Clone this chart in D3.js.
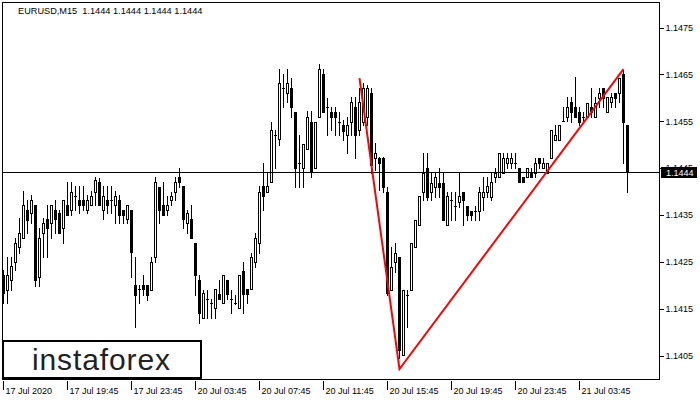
<!DOCTYPE html>
<html>
<head>
<meta charset="utf-8">
<script src="https://cdn.jsdelivr.net/npm/d3@7"></script>
<style>
  html, body { margin: 0; padding: 0; background: #fff; }
  svg { display: block; }
  text { font-family: "Liberation Sans", Arial, sans-serif; white-space: pre; }
</style>
</head>
<body>
<svg id="chart" width="700" height="400"></svg>
<script>
// ---------- DATA ----------
const symbolTitle = "EURUSD,M15  1.1444 1.1444 1.1444 1.1444";
const lastPrice = 1.1444;

const openP = [
1.14221,1.14189,1.14210,1.14249,1.14281,1.14300,1.14359,1.14353,1.14370,1.14217,
1.14310,1.14340,1.14332,1.14359,1.14353,1.14321,1.14370,1.14359,1.14389,1.14381,
1.14381,1.14359,1.14370,1.14398,1.14419,1.14359,1.14381,1.14381,1.14370,1.14381,
1.14359,1.14340,1.14359,1.14199,1.14191,1.14199,1.14199,1.14189,1.14259,1.14409,
1.14370,1.14359,1.14381,1.14398,1.14430,1.14411,1.14332,1.14340,1.14289,1.14210,
1.14129,1.14170,1.14161,1.14150,1.14180,1.14161,1.14210,1.14170,1.14161,1.14150,
1.14229,1.14191,1.14191,1.14249,1.14289,1.14411,1.14398,1.14419,1.14520,1.14511,
1.14620,1.14609,1.14620,1.14569,1.14460,1.14449,1.14490,1.14547,1.14449,1.14558,
1.14650,1.14579,1.14569,1.14569,1.14547,1.14541,1.14520,1.14547,1.14579,1.14530,
1.14547,1.14558,1.14609,1.14470,1.14470,1.14470,1.14398,1.14189,1.14249,1.14259,
1.14050,1.14178,1.14189,1.14281,1.14327,1.14398,1.14449,1.14398,1.14409,1.14417,
1.14417,1.14327,1.14381,1.14368,1.14377,1.14398,1.14368,1.14357,1.14357,1.14357,
1.14387,1.14398,1.14387,1.14430,1.14430,1.14438,1.14460,1.14460,1.14460,1.14449,
1.14430,1.14430,1.14438,1.14438,1.14470,1.14449,1.14438,1.14470,1.14509,1.14509,
1.14549,1.14558,1.14590,1.14579,1.14569,1.14558,1.14558,1.14579,1.14558,1.14598,
1.14620,1.14569,1.14590,1.14609,1.14609,1.14650,1.14541
];
const highP = [
1.14231,1.14259,1.14259,1.14300,1.14342,1.14400,1.14381,1.14392,1.14370,1.14321,
1.14342,1.14370,1.14370,1.14381,1.14359,1.14381,1.14419,1.14419,1.14411,1.14411,
1.14411,1.14392,1.14400,1.14430,1.14428,1.14411,1.14411,1.14411,1.14400,1.14392,
1.14359,1.14370,1.14359,1.14259,1.14199,1.14221,1.14199,1.14259,1.14430,1.14409,
1.14419,1.14389,1.14398,1.14430,1.14449,1.14411,1.14359,1.14370,1.14289,1.14221,
1.14189,1.14189,1.14170,1.14191,1.14210,1.14221,1.14210,1.14189,1.14178,1.14221,
1.14249,1.14191,1.14268,1.14310,1.14411,1.14460,1.14438,1.14547,1.14530,1.14660,
1.14650,1.14660,1.14641,1.14569,1.14520,1.14500,1.14571,1.14571,1.14547,1.14671,
1.14660,1.14598,1.14579,1.14579,1.14569,1.14552,1.14558,1.14601,1.14601,1.14620,
1.14630,1.14626,1.14620,1.14502,1.14473,1.14473,1.14409,1.14281,1.14289,1.14259,
1.14189,1.14189,1.14289,1.14338,1.14389,1.14481,1.14481,1.14438,1.14438,1.14449,
1.14438,1.14398,1.14398,1.14398,1.14438,1.14398,1.14368,1.14357,1.14368,1.14409,
1.14430,1.14430,1.14438,1.14449,1.14481,1.14481,1.14481,1.14481,1.14481,1.14449,
1.14430,1.14449,1.14449,1.14470,1.14470,1.14470,1.14460,1.14530,1.14541,1.14541,
1.14579,1.14601,1.14601,1.14643,1.14579,1.14569,1.14588,1.14620,1.14601,1.14620,
1.14620,1.14601,1.14609,1.14609,1.14641,1.14658,1.14541
];
const lowP = [
1.14161,1.14161,1.14189,1.14231,1.14268,1.14300,1.14310,1.14332,1.14197,1.14197,
1.14259,1.14259,1.14300,1.14310,1.14310,1.14289,1.14349,1.14349,1.14359,1.14353,
1.14359,1.14353,1.14370,1.14370,1.14370,1.14340,1.14353,1.14353,1.14332,1.14332,
1.14332,1.14332,1.14217,1.14110,1.14161,1.14178,1.14167,1.14189,1.14249,1.14332,
1.14349,1.14349,1.14370,1.14381,1.14409,1.14321,1.14310,1.14300,1.14178,1.14118,
1.14129,1.14129,1.14129,1.14129,1.14170,1.14161,1.14170,1.14140,1.14159,1.14150,
1.14140,1.14161,1.14191,1.14238,1.14268,1.14359,1.14398,1.14419,1.14449,1.14498,
1.14579,1.14590,1.14558,1.14409,1.14409,1.14409,1.14490,1.14430,1.14449,1.14558,
1.14569,1.14520,1.14530,1.14520,1.14520,1.14509,1.14481,1.14520,1.14470,1.14520,
1.14541,1.14541,1.14438,1.14445,1.14402,1.14398,1.14178,1.14189,1.14227,1.14044,
1.14050,1.14110,1.14189,1.14281,1.14327,1.14381,1.14381,1.14381,1.14387,1.14387,
1.14338,1.14327,1.14338,1.14338,1.14366,1.14327,1.14338,1.14338,1.14338,1.14338,
1.14359,1.14387,1.14381,1.14419,1.14430,1.14438,1.14449,1.14449,1.14449,1.14419,
1.14419,1.14430,1.14430,1.14430,1.14449,1.14449,1.14438,1.14470,1.14509,1.14509,
1.14549,1.14549,1.14547,1.14558,1.14541,1.14547,1.14558,1.14558,1.14558,1.14579,
1.14579,1.14569,1.14579,1.14579,1.14590,1.14460,1.14398
];
const closeP = [
1.14182,1.14221,1.14240,1.14289,1.14310,1.14370,1.14338,1.14381,1.14210,1.14300,
1.14332,1.14321,1.14370,1.14340,1.14310,1.14381,1.14349,1.14398,1.14389,1.14370,
1.14370,1.14381,1.14389,1.14424,1.14370,1.14389,1.14370,1.14381,1.14389,1.14349,
1.14349,1.14370,1.14270,1.14178,1.14191,1.14191,1.14178,1.14249,1.14419,1.14359,
1.14349,1.14370,1.14389,1.14419,1.14419,1.14340,1.14353,1.14300,1.14221,1.14140,
1.14182,1.14170,1.14161,1.14191,1.14170,1.14221,1.14180,1.14170,1.14161,1.14221,
1.14180,1.14180,1.14259,1.14300,1.14398,1.14389,1.14411,1.14530,1.14520,1.14630,
1.14620,1.14630,1.14579,1.14449,1.14460,1.14500,1.14558,1.14441,1.14547,1.14660,
1.14569,1.14579,1.14558,1.14558,1.14547,1.14528,1.14541,1.14590,1.14520,1.14590,
1.14620,1.14620,1.14455,1.14481,1.14460,1.14409,1.14182,1.14238,1.14268,1.14061,
1.14189,1.14178,1.14289,1.14338,1.14389,1.14438,1.14387,1.14417,1.14430,1.14409,
1.14338,1.14389,1.14381,1.14368,1.14389,1.14381,1.14349,1.14349,1.14357,1.14398,
1.14398,1.14411,1.14419,1.14438,1.14481,1.14470,1.14470,1.14470,1.14460,1.14419,
1.14419,1.14449,1.14430,1.14460,1.14460,1.14460,1.14460,1.14530,1.14520,1.14541,
1.14549,1.14579,1.14569,1.14558,1.14547,1.14558,1.14588,1.14569,1.14588,1.14609,
1.14598,1.14601,1.14601,1.14598,1.14641,1.14547,1.14440
];

const priceTicks = [1.1405, 1.1415, 1.1425, 1.1435, 1.1445, 1.1455, 1.1465, 1.1475];
const timeTickTimes = ["2020-07-17 15:45","2020-07-17 19:45","2020-07-17 23:45","2020-07-20 03:45",
  "2020-07-20 07:45","2020-07-20 11:45","2020-07-20 15:45","2020-07-20 19:45","2020-07-20 23:45","2020-07-21 03:45"];
const timeTickLabels = ["17 Jul 2020","17 Jul 19:45","17 Jul 23:45","20 Jul 03:45","20 Jul 07:45",
  "20 Jul 11:45","20 Jul 15:45","20 Jul 19:45","20 Jul 23:45","21 Jul 03:45"];

const patternTimes = ["2020-07-20 14:00", "2020-07-20 16:30", "2020-07-21 06:30"];
const patternPrices = [1.14641, 1.14020, 1.14660];

// bar times (M15, weekend skipped)
const pad = n => String(n).padStart(2, "0");
const fmt = d => `${d.getUTCFullYear()}-${pad(d.getUTCMonth()+1)}-${pad(d.getUTCDate())} ${pad(d.getUTCHours())}:${pad(d.getUTCMinutes())}`;
const barTimes = [];
{
  let t = Date.UTC(2020, 6, 17, 15, 45);
  while (barTimes.length < openP.length) {
    const d = new Date(t);
    const wd = d.getUTCDay();
    if (wd !== 0 && wd !== 6) barTimes.push(fmt(d));
    t += 15 * 60 * 1000;
  }
}
const candles = openP.map((o, i) => ({ i, o, h: highP[i], l: lowP[i], c: closeP[i] }));

// ---------- LAYOUT ----------
const frame = { left: 2, right: 659, top: 2, bottom: 379 };
const svg = d3.select("#chart");

const x = d3.scaleLinear().domain([0, candles.length - 1]).range([3, 627]);
const y = d3.scaleLinear().domain([1.1405, 1.1475]).range([355, 27]);
const px = i => Math.round(x(i));
const py = v => Math.round(y(v));

// frame
svg.append("rect")
  .attr("x", frame.left + 0.5).attr("y", frame.top + 0.5)
  .attr("width", frame.right - frame.left).attr("height", frame.bottom - frame.top)
  .attr("fill", "#fff").attr("stroke", "#000").attr("stroke-width", 1)
  .attr("shape-rendering", "crispEdges");

// title
svg.append("text").attr("x", 18).attr("y", 14)
  .attr("font-size", 9.2).attr("fill", "#000").attr("xml:space", "preserve").text(symbolTitle);

// candles
const gC = svg.append("g").attr("shape-rendering", "crispEdges");
candles.forEach(d => {
  const cx = px(d.i);
  const yH = py(d.h), yL = py(d.l);
  gC.append("rect").attr("x", cx).attr("y", yH).attr("width", 1).attr("height", Math.max(1, yL - yH + 1)).attr("fill", "#000");
  const yTop = py(Math.max(d.o, d.c)), yBot = py(Math.min(d.o, d.c));
  if (yBot - yTop < 1) {
    gC.append("rect").attr("x", cx - 1).attr("y", yTop).attr("width", 3).attr("height", 1).attr("fill", "#000");
  } else if (d.c < d.o) {
    gC.append("rect").attr("x", cx - 1).attr("y", yTop).attr("width", 3).attr("height", yBot - yTop + 1).attr("fill", "#000");
  } else {
    gC.append("rect").attr("x", cx - 0.5).attr("y", yTop + 0.5).attr("width", 2).attr("height", yBot - yTop)
      .attr("fill", "#fff").attr("stroke", "#000").attr("stroke-width", 1);
  }
});

// bid line
svg.append("line")
  .attr("x1", frame.left).attr("x2", frame.right)
  .attr("y1", py(lastPrice) + 0.5).attr("y2", py(lastPrice) + 0.5)
  .attr("stroke", "#000").attr("stroke-width", 1).attr("shape-rendering", "crispEdges");

// pattern lines
const patPts = patternTimes.map((t, k) => [x(barTimes.indexOf(t)) + 0.5, y(patternPrices[k])]);
svg.append("path").attr("d", d3.line()(patPts))
  .attr("fill", "none").attr("stroke", "#ff0000").attr("stroke-width", 2).attr("stroke-linejoin", "miter");

// price axis
const yAxis = d3.axisRight(y).tickValues(priceTicks).tickSize(4).tickFormat(d3.format(".4f"));
const gY = svg.append("g").attr("transform", `translate(${frame.right + 0.5},0.5)`).call(yAxis);
gY.select(".domain").remove();
gY.selectAll("line").attr("stroke", "#000").attr("shape-rendering", "crispEdges");
gY.selectAll("text").attr("font-size", 9).attr("font-family", "Liberation Sans, Arial, sans-serif").attr("fill", "#000").attr("x", 6);

// last price label (covers the lower part of the 1.1445 tick label, as in the terminal)
const yl = py(lastPrice);
svg.append("rect").attr("x", 661).attr("y", yl - 5).attr("width", 36).attr("height", 11).attr("fill", "#000").attr("shape-rendering", "crispEdges");
svg.append("text").attr("x", 666).attr("y", yl + 3.5).attr("font-size", 9).attr("fill", "#fff").text(d3.format(".4f")(lastPrice));

// time axis
const tickIdx = timeTickTimes.map(t => barTimes.indexOf(t));
const xAxis = d3.axisBottom(x).tickValues(tickIdx).tickSize(9)
  .tickFormat((d, k) => timeTickLabels[k]);
const gX = svg.append("g").attr("transform", `translate(0.5,${frame.bottom + 2})`).call(xAxis);
gX.select(".domain").remove();
gX.selectAll(".tick").attr("transform", d => `translate(${px(d)},0)`);
gX.selectAll("line").attr("stroke", "#000").attr("shape-rendering", "crispEdges");
gX.selectAll("text").attr("font-size", 9).attr("font-family", "Liberation Sans, Arial, sans-serif")
  .attr("fill", "#000").attr("text-anchor", "start").attr("x", 2).attr("y", 13).attr("dy", 0);

// logo
svg.append("rect").attr("x", 3).attr("y", 341).attr("width", 198).attr("height", 37)
  .attr("fill", "#fff").attr("stroke", "#000").attr("stroke-width", 2);
svg.append("text").attr("x", 32).attr("y", 370)
  .attr("font-family", "Lato, 'Open Sans', sans-serif").attr("font-weight", 300)
  .attr("font-size", 30).attr("fill", "#222")
  .attr("textLength", 138).attr("lengthAdjust", "spacing")
  .text("instaforex");
</script>
</body>
</html>
